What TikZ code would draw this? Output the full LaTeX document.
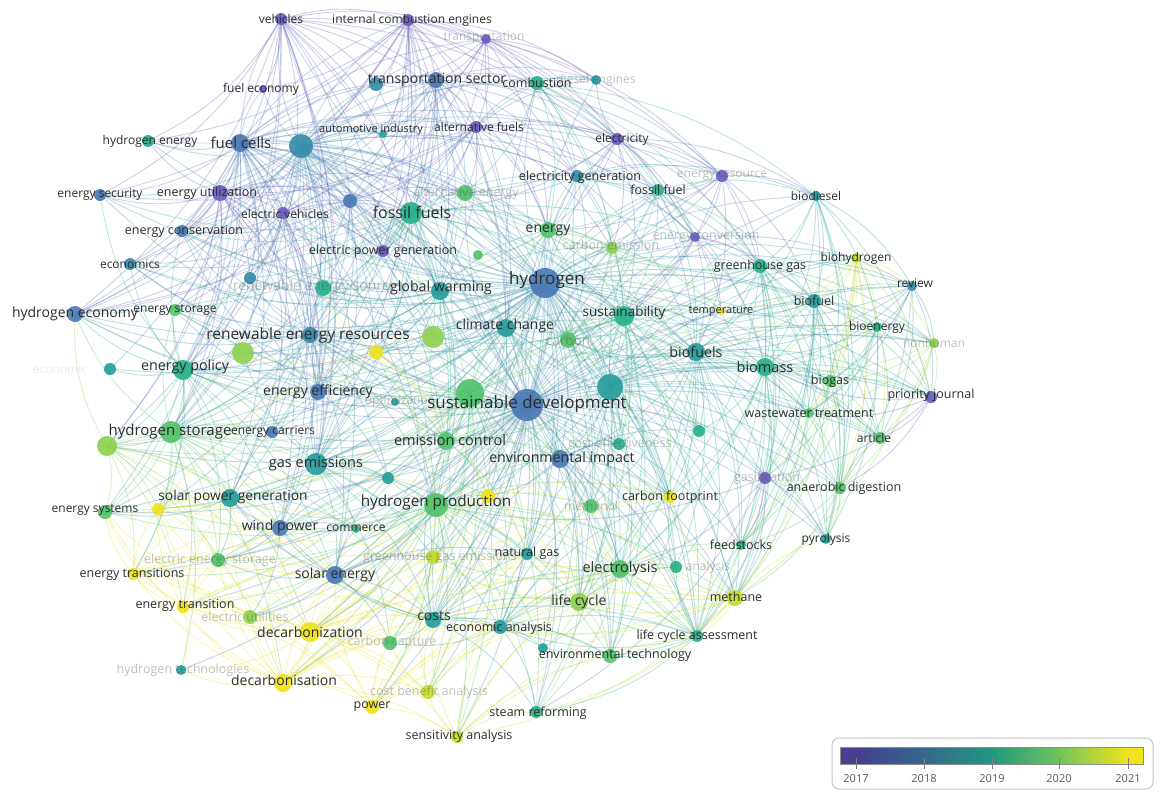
\documentclass[tikz,border=0pt]{standalone}
\usepackage{fontspec}
\setmainfont{Open Sans}
\definecolor{cP}{RGB}{108,94,192}
\definecolor{cB}{RGB}{74,122,180}
\definecolor{cBT}{RGB}{56,140,170}
\definecolor{cT}{RGB}{40,158,158}
\definecolor{cTG}{RGB}{40,178,138}
\definecolor{cG}{RGB}{82,195,108}
\definecolor{cLG}{RGB}{142,210,80}
\definecolor{cYG}{RGB}{196,220,45}
\definecolor{cY}{RGB}{240,226,30}
\definecolor{b17}{RGB}{72,62,146}
\definecolor{b18}{RGB}{52,104,140}
\definecolor{b19}{RGB}{34,152,128}
\definecolor{b20}{RGB}{112,196,92}
\definecolor{b21}{RGB}{244,228,28}
\definecolor{txt}{RGB}{45,45,45}
\tikzset{
  edge/.style={line width=0.9pt,draw opacity=0.3},
  lab/.style={inner sep=0pt,text=txt},
  labf/.style={inner sep=0pt,text=black!70,text opacity=0.35},
  labff/.style={inner sep=0pt,text=black!70,text opacity=0.1},
  yr/.style={inner sep=0pt,text=black!65,font=\fontsize{11}{11}\selectfont}
}
\newcommand\myedges[3]{\foreach \b in {#3}{\draw[edge,draw=#2] (#1) to[bend left=16] (\b);}}
\def\nodelist{veh/281/19/6/cP,ice/408/20/6/cP,trn/486/39/5/cP,feco/263/89/4/cP,tsec/436/80/8/cB,tsec2/376/84/7/cBT,comb/537/83/7/cTG,dies/596/80/5/cT,auto/383/134/4/cT,altf/476/127/6/cP,elec/617/139/6/cP,hen/148/141/6/cTG,fc/240/143/9/cB,bigt/301/146/12/cBT,esec/100/195/6/cB,eutil/220/193/8/cP,ev/283/213/6/cP,bp/350/201/7/cB,egen/577/176/6/cBT,alte/465/193/8/cG,ff/411/213/11/cTG,fosf/658/190/6/cTG,eres/722/176/6/cP,biod/816/196/5/cT,econs/182/231/6/cB,epg/383/251/6/cP,sg1/478/255/5/cG,en/548/230/8/cG,cem/612/248/6/cLG,econv/695/237/5/cP,ecos/130/264/6/cBT,ren2/250/278/6/cBT,res/323/288/8/cTG,gw/440/291/9/cT,hyd/545/283/15/cB,ghg/760/266/7/cTG,bioh/856/258/5/cYG,est/175/310/6/cG,hec/75/314/8/cB,rer/310/335/8/cBT,lg1/243/353/11/cLG,y1/376/352/7/cY,lg2/433/337/11/cLG,cc/506/328/9/cT,sus/624/316/10/cTG,carb/568/340/8/cG,temp/721/311/4/cY,biofl/814/301/7/cT,rev/912/286/5/cBT,bioen/877/327/5/cTG,nonh/934/343/5/cLG,ecsoc/110/369/6/cT,epol/183/370/10/cTG,biofs/696/352/9/cT,biom/765/367/9/cTG,bigt2/610/387/13/cT,bigg/470/393/14/cG,sd/527/405/16/cB,eeff/318/392/8/cB,opt/395/402/4/cT,biog/830/381/6/cG,prj/931/397/6/cP,wwt/809/413/5/cG,hst/171/432/11/cG,lg3/107/446/10/cLG,ecar/272/432/6/cB,emc/446/441/9/cG,ceff/619/444/6/cTG,t1/699/431/6/cTG,art/880/438/6/cG,gem/316/464/11/cT,eimp/560/459/9/cB,gasf/765/478/6/cP,ad/840/488/6/cG,t2/388/478/6/cT,spg/230/498/9/cT,hp/436/505/12/cG,y2/488/496/7/cY,cfp/670/497/6/cY,meth/591/506/7/cG,esys/105/512/7/cG,y3/158/509/6/cY,wp/280/528/8/cB,comm/356/529/4/cTG,ees/218/560/7/cG,ghge/433/557/7/cYG,ng/527/554/6/cT,se/335/575/9/cB,etrs/133/574/6/cY,ely/620/569/9/cG,exa/676/567/6/cTG,feed/741/545/5/cTG,pyr/826/539/5/cT,etr/183/607/6/cY,eut/250/617/7/cLG,lc/579/602/9/cLG,mthn/735/598/8/cYG,cost/433/620/8/cT,eca/500/627/7/cT,dcz/310/632/10/cY,ccap/390/643/7/cG,lca/697/636/6/cTG,envt/610/656/7/cG,t3/543/648/5/cT,htec/181/670/5/cT,dcs/283/683/9/cY,cba/428/692/7/cYG,pow/372/707/7/cY,smr/536/712/6/cTG,sens/457/737/6/cYG}
\def\labellist{veh/281/19/12/lab/vehicles,ice/412/20/12/lab/internal combustion engines,trn/484/38/12/labf/transportation,feco/261/89/12/lab/fuel economy,tsec/437/80/14/lab/transportation sector,comb/537/83/12.5/lab/combustion,dies/596/80/12/labf/diesel engines,auto/371/130/11/lab/automotive industry,altf/479/127/12/lab/alternative fuels,elec/622/139/12/lab/electricity,hen/150/141/12/lab/hydrogen energy,fc/241/143/15/lab/fuel cells,esec/100/195/12/lab/energy security,eutil/207/193/12.5/lab/energy utilization,ev/285/214/12/lab/electric vehicles,egen/580/177/12.5/lab/electricity generation,alte/466/193/12.5/labf/alternative energy,ff/412/212/16/lab/fossil fuels,fosf/658/190/12.5/lab/fossil fuel,eres/722/176/12/labf/energy resource,biod/816/196/12/lab/biodiesel,econs/184/231/12.5/lab/energy conservation,epg/383/251/12.5/lab/electric power generation,en/548/230/14/lab/energy,cem/611/245/12.5/labf/carbon emission,econv/706/236/12.5/labf/energy conversion,ecos/130/264/12/lab/economics,res/318/287/14/labf/renewable energy sources,gw/441/288/14.2/lab/global warming,hyd/547/280/17/lab/hydrogen,ghg/760/266/12.5/lab/greenhouse gas,bioh/856/258/12/lab/biohydrogen,est/175/310/12/lab/energy storage,hec/75/314/14/lab/hydrogen economy,rer/308/335/15.5/lab/renewable energy resources,cc/505/326/14/lab/climate change,sus/624/313/13.5/lab/sustainability,carb/568/340/13.5/labf/carbon,temp/721/311/11/lab/temperature,biofl/814/301/12.5/lab/biofuel,rev/915/283/12/lab/review,bioen/877/327/12/lab/bioenergy,nonh/934/343/12/labf/nonhuman,ecsoc/60/369/12/labff/economic,epol/185/367/14.3/lab/energy policy,biofs/696/352/14.3/lab/biofuels,biom/765/367/14.5/lab/biomass,sd/527/404/17/lab/sustainable development,eeff/318/392/14/lab/energy efficiency,opt/400/402/12/labf/optimization,biog/830/381/12.5/lab/biogas,prj/931/395/12.5/lab/priority journal,wwt/809/413/12.5/lab/wastewater treatment,hst/170/432/15/lab/hydrogen storage,ecar/273/432/12/lab/energy carriers,emc/450/440/14.5/lab/emission control,ceff/620/443/12.5/labf/cost effectiveness,art/874/438/12/lab/article,gem/316/464/14.5/lab/gas emissions,eimp/562/459/14.2/lab/environmental impact,gasf/767/478/12.5/labf/gasification,ad/844/488/12.5/lab/anaerobic digestion,spg/233/497/13.8/lab/solar power generation,hp/436/503/15.3/lab/hydrogen production,cfp/670/497/12.5/lab/carbon footprint,meth/591/506/12/labf/methanol,esys/95/510/12/lab/energy systems,wp/280/527/14/lab/wind power,comm/356/528/12/lab/commerce,ees/210/560/12.5/labf/electric energy storage,ghge/440/557/12.5/labf/greenhouse gas emissions,ng/527/553/12.5/lab/natural gas,se/335/575/14/lab/solar energy,etrs/132/574/12.5/lab/energy transitions,ely/620/569/14.5/lab/electrolysis,exa/708/567/12/labf/analysis,feed/741/545/12.5/lab/feedstocks,pyr/826/539/12/lab/pyrolysis,etr/185/605/12.5/lab/energy transition,eut/245/617/12.5/labf/electric utilities,lc/579/602/14/lab/life cycle,mthn/736/597/12.5/lab/methane,cost/434/616/14/lab/costs,eca/499/628/12.5/lab/economic analysis,dcz/310/632/14/lab/decarbonization,ccap/392/642/12.5/labf/carbon capture,lca/697/636/12.5/lab/life cycle assessment,envt/615/655/12.5/lab/environmental technology,htec/183/670/12.5/labf/hydrogen technologies,dcs/284/680/14/lab/decarbonisation,cba/429/692/12.5/labf/cost benefit analysis,pow/372/707/12.5/lab/power,smr/538/713/12.5/lab/steam reforming,sens/459/736/12.5/lab/sensitivity analysis}
\begin{document}
\begin{tikzpicture}[x=1pt,y=-1pt]
\useasboundingbox (0,0) rectangle (1164,798);
\fill[white] (0,0) rectangle (1164,798);
\foreach \n/\x/\y/\r/\c in \nodelist {\coordinate (\n) at (\x,\y);}
% connectors
\myedges{hyd}{cBT}{veh,ice,trn,tsec,tsec2,comb,dies,altf,elec,hen,fc,bigt,esec,eutil,ev,bp,egen,alte,ff,fosf,eres,biod,econs,epg,en,cem,econv,ecos,ren2,res,gw,ghg,bioh,est,hec,rer,lg1,y1,lg2,cc,sus,carb,temp,biofl,rev,bioen,nonh,ecsoc,epol,biofs,biom,bigt2,bigg,sd,eeff,biog,prj,wwt,hst,lg3,ecar,emc,ceff,t1,art,gem,eimp,gasf,ad,t2,spg,hp,y2,cfp,meth,esys,wp,ng,se,ely,exa,feed,pyr,lc,mthn,cost,eca,dcz,lca,envt,smr}
\myedges{sd}{cB}{veh,ice,fc,bigt,esec,eutil,ecos,hec,econs,ff,alte,en,egen,fosf,biod,ghg,bioh,biofl,rev,bioen,nonh,biofs,biom,biog,prj,wwt,art,ad,gasf,pyr,feed,mthn,lca,envt,smr,sens,pow,cba,dcs,dcz,cost,eca,lc,ely,ng,ghge,se,wp,esys,etrs,etr,hp,gem,emc,eimp,hst,lg3,epol,rer,gw,cc,sus,carb,cem,cfp,meth,ceff,t1,bigt2,bigg,y1,y2,spg,ees,eut,ccap,htec,tsec,comb,elec,eres,econv,est,ecar,opt,t2,comm,exa,t3}
\myedges{bigg}{cG}{hyd,sd,hst,lg3,epol,rer,lg1,lg2,gem,hp,se,wp,spg,esys,etrs,etr,dcz,dcs,pow,cba,sens,cost,eca,lc,ely,ng,ghge,ccap,cfp,mthn,biofs,biom,sus,cc,carb,en,alte,ff,gw,res,est,hec,y1,y2,y3,eut,ees,envt,lca,smr,meth,emc,eimp,bioh,temp,nonh}
\myedges{bigt2}{cT}{hyd,sd,biofs,biom,biofl,biog,bioen,ad,wwt,gasf,pyr,feed,mthn,lca,envt,lc,ely,exa,cfp,meth,ceff,t1,sus,carb,cc,en,cem,ghg,econv,fosf,egen,eimp,hp,emc,ng,eca,cost,smr,rev,art,prj,bioh,nonh,temp,biod}
\myedges{fc}{cB}{veh,ice,trn,feco,tsec,tsec2,auto,altf,hen,bigt,esec,eutil,ev,bp,econs,ecos,hec,est,hst,lg3,epol,eeff,rer,gem,ff,gw,cc,hyd,sd,en,alte,egen,elec,esys,spg,wp,hp,lg1,lg2,sus,ecar,ecsoc,epg,ren2,res}
\myedges{bigt}{cBT}{veh,ice,trn,feco,tsec,tsec2,auto,altf,comb,hen,esec,eutil,ev,bp,econs,ecos,hec,est,hst,lg3,epol,eeff,rer,gem,ff,gw,cc,hyd,sd,en,alte,egen,elec,spg,wp,hp,lg1,lg2,sus,ecar,epg,ren2,res,y1,carb,biofs,eimp,emc,se,cost,dies,fosf,eres}
\myedges{veh}{cP}{ice,feco,tsec,tsec2,auto,altf,eutil,ev,bp,ff,esec,hen,econs,epg,hec,eeff,gem,rer,gw,trn,comb,elec,hst,epol}
\myedges{ice}{cP}{trn,tsec,tsec2,auto,altf,eutil,ev,bp,ff,comb,elec,egen,esec,hec,econs,eeff,epg,gem,cc,dies,hen,feco,rer,gw,en,eres}
\myedges{trn}{cP}{tsec,altf,comb,elec,ff,egen,econv,eres,dies,tsec2,auto,ev,bp,en}
\myedges{tsec}{cB}{tsec2,comb,dies,altf,auto,ff,en,egen,elec,alte,gw,cc,eutil,ev,bp,hen,econs,eeff,rer,gem,epg,eres,fosf}
\myedges{altf}{cP}{comb,dies,elec,egen,ff,en,alte,ev,bp,eutil,auto,epg,gw,cc,fosf,eres,econv,cem,hec,esec}
\myedges{elec}{cP}{egen,fosf,eres,econv,en,cem,ff,alte,comb,dies,biod,ghg,sus,biofs}
\myedges{eutil}{cP}{esec,econs,ecos,ev,bp,hen,hec,est,rer,epol,eeff,ff,epg,gem,hst,lg3,res,ren2,alte}
\myedges{ev}{cP}{bp,econs,epg,ff,rer,eeff,gem,hec,est,hst,epol,res,ren2,spg,wp}
\myedges{bp}{cB}{epg,ff,rer,eeff,gem,res,econs,ecos,hec,hst,gw,alte}
\myedges{ff}{cTG}{alte,en,egen,fosf,cem,epg,res,gw,cc,sus,carb,rer,lg1,lg2,y1,epol,hst,gem,emc,eimp,hp,eeff,hec,esec,econs,ecos,est,ren2,biofs,ghg,comb}
\myedges{comb}{cTG}{dies,egen,fosf,en,alte,cem,biod,ghg,econv,eres,sus}
\myedges{egen}{cBT}{fosf,eres,en,cem,econv,alte,sus,carb,ghg,biofs,biod}
\myedges{eres}{cP}{econv,fosf,biod,en,cem,ghg,biofl,biofs,biom,sus}
\myedges{econv}{cP}{fosf,cem,ghg,biofl,biofs,biom,sus,carb,temp,rev}
\myedges{fosf}{cTG}{cem,en,ghg,biod,biofl,biofs,biom,sus,carb,temp}
\myedges{biod}{cT}{biofl,biofs,biom,ghg,bioen,rev,biog,ad,prj,pyr,gasf}
\myedges{ghg}{cTG}{bioh,biofl,biofs,biom,temp,rev,bioen,nonh,biog,wwt,art,ad,pyr,gasf,sus,carb,cem,en,mthn,lca,feed,cfp}
\myedges{bioh}{cYG}{biofl,biofs,biom,rev,bioen,nonh,biog,wwt,art,ad,pyr,gasf,feed,mthn,prj,temp}
\myedges{biofl}{cT}{rev,bioen,nonh,biog,wwt,art,ad,pyr,gasf,feed,mthn,prj,biofs,biom,temp,sus,lca}
\myedges{rev}{cBT}{bioen,nonh,biog,art,prj,wwt,ad,biom,biofs,temp}
\myedges{bioen}{cTG}{nonh,biog,art,prj,wwt,ad,biom,biofs,pyr,feed,gasf}
\myedges{nonh}{cLG}{art,prj,biog,wwt,ad,biom,mthn}
\myedges{biofs}{cT}{biom,biog,wwt,art,ad,gasf,pyr,feed,mthn,lca,envt,lc,ely,cfp,meth,ceff,t1,exa,sus,carb,cc,temp,prj,eimp}
\myedges{biom}{cTG}{biog,wwt,art,ad,gasf,pyr,feed,mthn,lca,lc,ely,cfp,exa,t1,prj,temp,sus,carb}
\myedges{biog}{cG}{wwt,art,ad,prj,pyr,feed,mthn,gasf}
\myedges{prj}{cP}{art,wwt,ad,gasf,biom}
\myedges{wwt}{cG}{art,ad,mthn,feed}
\myedges{ad}{cG}{pyr,feed,mthn,gasf,art}
\myedges{gasf}{cP}{pyr,feed,mthn,smr,ely,lca,hp}
\myedges{mthn}{cYG}{feed,pyr,lca,lc,ely,exa,cfp,smr,envt,meth,ng,eca,cost,sens}
\myedges{lca}{cTG}{lc,ely,envt,smr,exa,cfp,meth,t3,eca,feed}
\myedges{sus}{cTG}{cc,carb,en,cem,temp,cfp,meth,ceff,t1,eimp,emc,hp,ely,lc,envt,lca,gw,rer,lg2,y2}
\myedges{cc}{cT}{gw,carb,en,cem,res,rer,lg2,y1,emc,hp,eimp,ceff,gem,epol,hst,eeff,ng,cost,ely,lc,sus,cfp}
\myedges{gw}{cT}{res,rer,lg1,lg2,y1,eeff,gem,emc,hp,epol,hst,en,alte,carb,cem,epg,ren2,ecos,econs}
\myedges{rer}{cBT}{res,ren2,est,hec,ecos,econs,lg1,lg2,y1,epol,hst,lg3,ecar,eeff,gem,spg,wp,se,hp,emc,opt,t2,esys,y3}
\myedges{epol}{cTG}{hec,ecos,econs,esec,est,ren2,lg1,hst,lg3,ecar,eeff,gem,spg,wp,esys,y3,ees,etrs,se,ecsoc}
\myedges{hst}{cG}{hec,est,lg3,ecar,eeff,gem,spg,wp,esys,y3,ees,etrs,etr,se,hp,dcz,dcs,htec,lg1,cost,comm}
\myedges{lg3}{cLG}{hec,esys,y3,spg,wp,ees,etrs,etr,se,dcz,dcs,gem,ecar}
\myedges{gem}{cT}{eeff,opt,t2,emc,hp,spg,wp,comm,se,ghge,cost,eca,ng,y2,lg1,lg2,y1,ees,ccap}
\myedges{hp}{cG}{emc,eimp,y2,ng,ghge,se,wp,spg,cost,eca,ely,lc,lca,envt,smr,sens,cba,pow,dcz,dcs,ccap,t3,meth,cfp,mthn,etr,etrs,esys,y3,eut,ees,t2,comm,ceff,exa}
\myedges{dcz}{cY}{dcs,etr,etrs,y3,esys,pow,cba,sens,ccap,eut,ees,se,wp,spg,cost,eca,ghge,ng,lc,ely,hp,htec,y2,mthn,cfp}
\myedges{dcs}{cY}{etr,etrs,y3,esys,pow,cba,sens,ccap,eut,ees,se,wp,spg,cost,eca,ghge,ng,lc,ely,htec,y2,mthn,cfp}
\myedges{etr}{cY}{etrs,y3,esys,pow,cba,ees,eut,se,wp,spg,cost,ghge,htec}
\myedges{etrs}{cY}{y3,esys,ees,eut,se,wp,spg,ghge,cost,pow}
\myedges{y3}{cY}{esys,ees,spg,wp,se,y1,y2,ghge}
\myedges{pow}{cY}{cba,sens,ccap,cost,eca,ghge,se,ng,lc,mthn,ely}
\myedges{sens}{cYG}{cba,cost,eca,lc,ely,ng,smr,lca,envt,mthn}
\myedges{cba}{cYG}{cost,eca,ccap,ng,lc,ely,ghge}
\myedges{cost}{cT}{eca,ng,ely,lc,lca,envt,smr,se,wp,spg,ghge,ccap,t3,emc,eimp,y2}
\myedges{eca}{cT}{ng,ely,lc,lca,envt,smr,t3,ccap,meth,cfp,exa}
\myedges{ely}{cG}{lc,lca,envt,smr,exa,meth,cfp,ng,ghge,t3,feed}
\myedges{lc}{cLG}{lca,envt,smr,cfp,meth,exa,ng,t3,ghge,feed}
\myedges{se}{cB}{wp,spg,ees,ghge,ccap,eut,comm,t2,ng,cost}
\myedges{wp}{cB}{spg,ees,comm,t2,eut}
\myedges{spg}{cT}{ees,comm,t2,esys,eeff}
\myedges{emc}{cG}{eimp,y2,ghge,ng,t2,opt,ceff,meth,cfp,y1,lg2}
\myedges{eimp}{cB}{ceff,t1,cfp,meth,ng,ely,lc,lca,envt,exa,y2}
\myedges{y1}{cY}{lg2,lg1,res,eeff,emc,hp,y2}
\myedges{y2}{cY}{ng,ghge,cfp,meth,lc,ely}
\myedges{cem}{cLG}{carb,en,temp,ceff,t1,biofs,cfp}
\myedges{en}{cG}{carb,alte,cem,res,egen,sus,temp,sg1}
\myedges{carb}{cG}{cem,temp,ceff,t1,cfp,meth,biofs}
\myedges{eeff}{cB}{opt,ecar,t2,ren2,res,econs,est,emc}
% nodes
\foreach \n/\x/\y/\r/\c in \nodelist {\fill[\c,fill opacity=0.92] (\n) circle[radius=\r pt];}
% labels
\foreach \n/\x/\y/\s/\st/\t in \labellist {\node[\st,font=\fontsize{\s}{\s}\selectfont] (L\n) at (\x,\y) {\t};}
% legend
\draw[black!22,line width=1pt,rounded corners=7pt] (832,738) rectangle (1153,789);
\fill[b17] (840,747) rectangle (856.5,764);
\shade[left color=b17,right color=b18] (856,747) rectangle (924.5,764);
\shade[left color=b18,right color=b19] (924,747) rectangle (992.5,764);
\shade[left color=b19,right color=b20] (992,747) rectangle (1059.5,764);
\shade[left color=b20,right color=b21] (1059,747) rectangle (1128.5,764);
\fill[b21] (1128,747) rectangle (1143,764);
\draw[black!45,line width=0.6pt] (840,747) rectangle (1143,764);
\foreach \t/\x in {2017/856,2018/924,2019/992,2020/1059,2021/1128}{
  \draw[black!50,line width=0.6pt] (\x,758) -- (\x,769);
  \node[yr] (Y\t) at (\x,779) {\t};
}
\end{tikzpicture}
\end{document}
